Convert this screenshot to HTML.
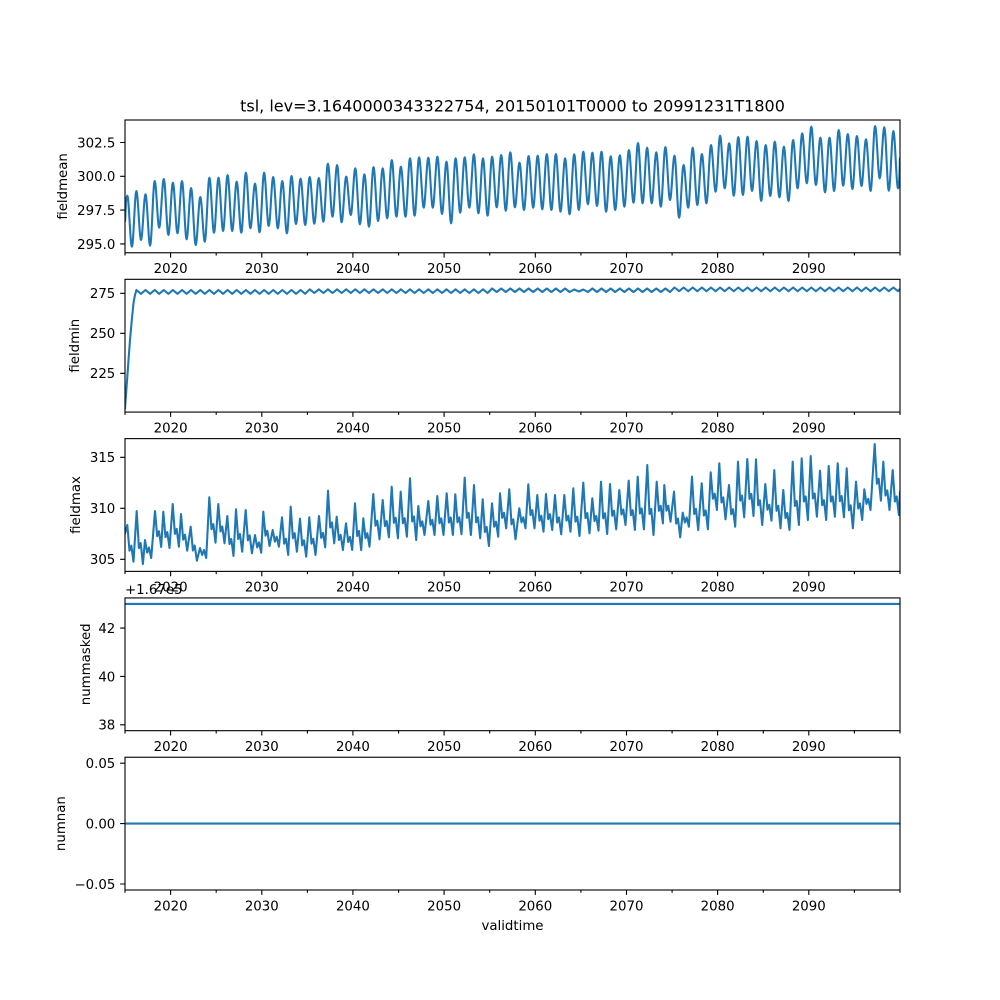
<!DOCTYPE html>
<html>
<head>
<meta charset="utf-8">
<style>
html,body{margin:0;padding:0;background:#fff;}
svg{display:block;}
text{font-family:"DejaVu Sans","Liberation Sans",sans-serif;fill:#000;}
.tk{font-size:13.33px;}
</style>
</head>
<body>
<svg width="1000" height="1000" viewBox="0 0 1000 1000" xmlns="http://www.w3.org/2000/svg">
<rect x="0" y="0" width="1000" height="1000" fill="#fff"/>
<defs>
<clipPath id="c1"><rect x="125" y="120" width="775" height="132.76"/></clipPath>
<clipPath id="c2"><rect x="125" y="279.31" width="775" height="132.76"/></clipPath>
<clipPath id="c3"><rect x="125" y="438.62" width="775" height="132.76"/></clipPath>
<clipPath id="c4"><rect x="125" y="597.93" width="775" height="132.76"/></clipPath>
<clipPath id="c5"><rect x="125" y="757.24" width="775" height="132.76"/></clipPath>
</defs>

<!-- title -->
<text x="512.5" y="111.7" text-anchor="middle" font-size="16">tsl, lev=3.1640000343322754, 20150101T0000 to 20991231T1800</text>

<!-- ===== Panel 1 ===== -->
<path clip-path="url(#c1)" fill="none" stroke="#1f77b4" stroke-width="2.08" stroke-linejoin="round" d="M125,221.7 C125.8,212 125.7,195.7 127.3,195.7 S130.3,246.7 131.9,246.7 S134.8,191 136.4,191 S139.4,240 141,240 S143.9,194.3 145.5,194.3 S148.5,245.7 150.1,245.7 S153.1,181 154.7,181 S157.6,227.7 159.2,227.7 S162.2,179 163.8,179 S166.8,235 168.4,235 S171.3,182.7 172.9,182.7 S175.9,233.3 177.5,233.3 S180.4,181 182,181 S185,239.3 186.6,239.3 S189.5,188 191.1,188 S194.1,245 195.7,245 S198.7,197 200.3,197 S203.2,241.7 204.8,241.7 S207.8,177.7 209.4,177.7 S212.4,232.7 214,232.7 S216.9,177.7 218.5,177.7 S221.5,231 223.1,231 S226,175 227.6,175 S230.6,231 232.2,231 S235.1,181.7 236.7,181.7 S239.7,232.7 241.3,232.7 S244.3,172.7 245.9,172.7 S248.8,228.3 250.4,228.3 S253.4,183.7 255,183.7 S258,232.3 259.6,232.3 S262.5,172.7 264.1,172.7 S267.1,226 268.7,226 S271.6,177 273.2,177 S276.2,228.3 277.8,228.3 S280.7,181 282.3,181 S285.3,233.3 286.9,233.3 S289.9,176 291.5,176 S294.4,224 296,224 S299,178.7 300.6,178.7 S303.6,225 305.2,225 S308.1,177 309.7,177 S312.7,223.7 314.3,223.7 S317.2,178 318.8,178 S321.8,221.7 323.4,221.7 S326.3,163.7 327.9,163.7 S330.9,216.7 332.5,216.7 S335.5,165 337.1,165 S340,222.3 341.6,222.3 S344.6,176.7 346.2,176.7 S349.2,215 350.8,215 S353.7,168.3 355.3,168.3 S358.3,224.3 359.9,224.3 S362.8,174.3 364.4,174.3 S367.4,226.7 369,226.7 S371.9,167 373.5,167 S376.5,221 378.1,221 S381.1,168.3 382.7,168.3 S385.6,218.3 387.2,218.3 S390.2,160 391.8,160 S394.8,216.7 396.4,216.7 S399.3,166.7 400.9,166.7 S403.9,216.7 405.5,216.7 S408.4,158.3 410,158.3 S413,215.7 414.6,215.7 S417.5,157.3 419.1,157.3 S422.1,207.7 423.7,207.7 S426.7,157.7 428.3,157.7 S431.2,207.7 432.8,207.7 S435.8,156.7 437.4,156.7 S440.4,214 442,214 S444.9,161.7 446.5,161.7 S449.5,223.3 451.1,223.3 S454,158.3 455.6,158.3 S458.6,212.7 460.2,212.7 S463.1,157.3 464.7,157.3 S467.7,207.7 469.3,207.7 S472.3,154.3 473.9,154.3 S476.8,213.3 478.4,213.3 S481.4,158.3 483,158.3 S486,215.7 487.6,215.7 S490.5,156.7 492.1,156.7 S495.1,207.3 496.7,207.3 S499.6,155 501.2,155 S504.2,210.7 505.8,210.7 S508.7,152.3 510.3,152.3 S513.3,207.3 514.9,207.3 S517.9,162.7 519.5,162.7 S522.4,210 524,210 S527,156 528.6,156 S531.6,207.7 533.2,207.7 S536.1,155.7 537.7,155.7 S540.7,209.3 542.3,209.3 S545.2,154 546.8,154 S549.8,210 551.4,210 S554.3,154 555.9,154 S558.9,211.7 560.5,211.7 S563.5,158.3 565.1,158.3 S568,214.3 569.6,214.3 S572.6,154.3 574.2,154.3 S577.2,210 578.8,210 S581.7,151.7 583.3,151.7 S586.3,204.3 587.9,204.3 S590.8,152.7 592.4,152.7 S595.4,206 597,206 S599.9,151.7 601.5,151.7 S604.5,211.7 606.1,211.7 S609.1,156.3 610.7,156.3 S613.6,210 615.2,210 S618.2,155.3 619.8,155.3 S622.8,206.7 624.4,206.7 S627.3,150 628.9,150 S631.9,202.7 633.5,202.7 S636.4,143 638,143 S641,203.3 642.6,203.3 S645.5,147.7 647.1,147.7 S650.1,203.3 651.7,203.3 S654.7,152.3 656.3,152.3 S659.2,206.7 660.8,206.7 S663.8,147 665.4,147 S668.4,200 670,200 S672.9,155.7 674.5,155.7 S677.5,217.7 679.1,217.7 S682,165 683.6,165 S686.6,207.7 688.2,207.7 S691.1,147.7 692.7,147.7 S695.7,205 697.3,205 S700.3,154 701.9,154 S704.8,203.3 706.4,203.3 S709.4,145 711,145 S714,191.7 715.6,191.7 S718.5,135.7 720.1,135.7 S723.1,188.3 724.7,188.3 S727.6,143.3 729.2,143.3 S732.2,195.7 733.8,195.7 S736.7,137 738.3,137 S741.3,195 742.9,195 S745.9,136.7 747.5,136.7 S750.4,191 752,191 S755,141 756.6,141 S759.6,201 761.2,201 S764.1,145 765.7,145 S768.7,196 770.3,196 S773.2,141.7 774.8,141.7 S777.8,197.3 779.4,197.3 S782.3,146.7 783.9,146.7 S786.9,201 788.5,201 S791.5,140 793.1,140 S796,188.3 797.6,188.3 S800.6,133.3 802.2,133.3 S805.2,183.3 806.8,183.3 S809.7,126.7 811.3,126.7 S814.3,185 815.9,185 S818.8,137.7 820.4,137.7 S823.4,192.3 825,192.3 S827.9,137.7 829.5,137.7 S832.5,191 834.1,191 S837.1,130 838.7,130 S841.6,185.7 843.2,185.7 S846.2,134 847.8,134 S850.8,189 852.4,189 S855.3,136 856.9,136 S859.9,186 861.5,186 S864.4,139.3 866,139.3 S869,191 870.6,191 S873.5,126 875.1,126 S878.1,178.3 879.7,178.3 S882.7,127.3 884.3,127.3 S887.2,190.7 888.8,190.7 S891.8,131 893.4,131 S896.4,188.3 898,188.3 S899.5,165 900,157.7"/>
<rect x="125" y="120" width="775" height="132.76" fill="none" stroke="#000" stroke-width="1.11"/>
<g stroke="#000" stroke-width="1.11" fill="none">
<path d="M120.14 243.9H125M120.14 210.1H125M120.14 176.3H125M120.14 142.5H125"/>
<path transform="translate(0,252.76)" d="M170.6 0v4.86M261.8 0v4.86M352.9 0v4.86M444.1 0v4.86M535.3 0v4.86M626.5 0v4.86M717.6 0v4.86M808.8 0v4.86"/>
<path transform="translate(0,252.76)" d="M125 0v2.78M216.2 0v2.78M307.4 0v2.78M398.6 0v2.78M489.7 0v2.78M580.9 0v2.78M672.1 0v2.78M763.3 0v2.78M854.4 0v2.78M900 0v2.78"/>
</g>
<g class="tk" text-anchor="end">
<text x="115.3" y="248.75">295.0</text>
<text x="115.3" y="214.95">297.5</text>
<text x="115.3" y="181.15">300.0</text>
<text x="115.3" y="147.35">302.5</text>
</g>
<g class="tk" text-anchor="middle">
<text x="170.6" y="273">2020</text><text x="261.8" y="273">2030</text><text x="352.9" y="273">2040</text><text x="444.1" y="273">2050</text><text x="535.3" y="273">2060</text><text x="626.5" y="273">2070</text><text x="717.6" y="273">2080</text><text x="808.8" y="273">2090</text>
</g>
<text class="tk" transform="translate(67,186.4) rotate(-90)" text-anchor="middle">fieldmean</text>

<!-- ===== Panel 2 ===== -->
<polyline clip-path="url(#c2)" fill="none" stroke="#1f77b4" stroke-width="2.08" stroke-linejoin="round" stroke-linecap="square" points="125,408 126.5,388 128.5,360 130,340 131.7,321 133.5,303 135,295 136.4,290 141.0,293.8 145.5,290 150.1,293.8 154.7,290 159.2,293.8 163.8,290 168.4,293.8 172.9,290 177.5,293.8 182.0,290 186.6,293.8 191.1,290 195.7,293.8 200.3,290 204.8,293.8 209.4,290 214.0,293.8 218.5,290 223.1,293.8 227.6,290 232.2,293.8 236.7,290 241.3,293.8 245.9,290 250.4,293.8 255.0,290 259.6,293.8 264.1,290 268.7,293.8 273.2,290 277.8,293.8 282.3,290 286.9,293.8 291.5,290 296.0,293.8 300.6,290 305.2,293.8 309.7,289.3 314.3,293 318.8,289.3 323.4,293 327.9,289.3 332.5,293 337.1,289.3 341.6,293 346.2,289.3 350.8,293 355.3,289.3 359.9,293 364.4,289.3 369.0,293 373.5,289.3 378.1,293 382.7,289.3 387.2,293 391.8,289.3 396.4,293 400.9,289.3 405.5,293 410.0,289.3 414.6,293 419.1,289.3 423.7,293 428.3,289.3 432.8,293 437.4,289.3 442.0,293 446.5,289.3 451.1,293 455.6,289.3 460.2,293 464.7,289.3 469.3,293 473.9,289.3 478.4,293 483.0,289.3 487.6,293 492.1,288.5 496.7,292 501.2,288.5 505.8,292 510.3,288.5 514.9,292 519.5,288.5 524.0,292 528.6,288.5 533.2,292 537.7,288.5 542.3,292 546.8,288.5 551.4,292 555.9,288.5 560.5,292 565.1,288.5 569.6,292 574.2,289.5 578.8,291.5 583.3,289.5 587.9,292 592.4,288.5 597.0,292 601.5,288.5 606.1,292 610.7,288.5 615.2,292 619.8,288.5 624.4,292 628.9,288.5 633.5,292 638.0,288.5 642.6,292 647.1,288.5 651.7,292 656.3,288.5 660.8,292 665.4,288.5 670.0,292 674.5,287.5 679.1,291.2 683.6,287.5 688.2,291.2 692.7,287.5 697.3,291.2 701.9,287.5 706.4,291.2 711.0,287.5 715.6,291.2 720.1,287.5 724.7,291.2 729.2,287.5 733.8,291.2 738.3,287.5 742.9,291.2 747.5,287.5 752.0,291.2 756.6,287.5 761.2,291.2 765.7,287.5 770.3,291.2 774.8,287.5 779.4,291.2 783.9,287.5 788.5,291.2 793.1,287.5 797.6,291.2 802.2,287.5 806.8,291.2 811.3,287.5 815.9,291.2 820.4,287.5 825.0,291.2 829.5,287.5 834.1,291.2 838.7,287.5 843.2,291.2 847.8,287.5 852.4,291.2 856.9,287.5 861.5,291.2 866.0,287.5 870.6,291.2 875.1,287.5 879.7,291.2 884.3,287.5 888.8,291.2 893.4,287.5 898.0,291.2 900,289"/>
<rect x="125" y="279.31" width="775" height="132.76" fill="none" stroke="#000" stroke-width="1.11"/>
<g stroke="#000" stroke-width="1.11" fill="none">
<path d="M120.14 373.3H125M120.14 333.3H125M120.14 293.3H125"/>
<path transform="translate(0,412.07)" d="M170.6 0v4.86M261.8 0v4.86M352.9 0v4.86M444.1 0v4.86M535.3 0v4.86M626.5 0v4.86M717.6 0v4.86M808.8 0v4.86"/>
<path transform="translate(0,412.07)" d="M125 0v2.78M216.2 0v2.78M307.4 0v2.78M398.6 0v2.78M489.7 0v2.78M580.9 0v2.78M672.1 0v2.78M763.3 0v2.78M854.4 0v2.78M900 0v2.78"/>
</g>
<g class="tk" text-anchor="end">
<text x="115.3" y="378.15">225</text>
<text x="115.3" y="338.15">250</text>
<text x="115.3" y="298.15">275</text>
</g>
<g class="tk" text-anchor="middle">
<text x="170.6" y="432.3">2020</text><text x="261.8" y="432.3">2030</text><text x="352.9" y="432.3">2040</text><text x="444.1" y="432.3">2050</text><text x="535.3" y="432.3">2060</text><text x="626.5" y="432.3">2070</text><text x="717.6" y="432.3">2080</text><text x="808.8" y="432.3">2090</text>
</g>
<text class="tk" transform="translate(79,345.7) rotate(-90)" text-anchor="middle">fieldmin</text>

<!-- ===== Panel 3 ===== -->
<polyline clip-path="url(#c3)" fill="none" stroke="#1f77b4" stroke-width="2.08" stroke-linejoin="round" stroke-linecap="square" points="125,533.3 127.3,525 129.5,550.7 131.3,545.7 133.5,561.7 136.7,511 138.9,548.1 140.7,543.1 142.9,564 145,540 147.2,552.6 149,547.6 151.2,558 155,511 157.2,536.2 159,531.2 161.2,547 163.3,511.7 165.5,537.1 167.3,532.1 169.5,548 172.7,504 174.9,533.9 176.7,528.9 178.9,546.7 181,514 183.2,539.7 185,534.7 187.2,550.7 190.7,526.7 192.9,550.5 194.7,545.5 196.9,560.7 200,548 202.2,555 204,550 206.2,558 209.3,497.3 211.5,529.1 213.3,524.1 215.5,542.7 218.3,504 220.5,531.5 222.3,526.5 224.5,543.3 227.3,516 229.5,544 231.3,539 233.5,556 236,509.3 238.2,539 240,534 242.2,551.7 245.7,510 247.9,540.3 249.7,535.3 251.9,553.3 255,535 257.2,547.4 259,542.4 261.2,552.7 263.3,511.7 265.5,535.7 267.3,530.7 269.5,546 272.7,530 274.9,541.7 276.7,536.7 278.9,546.7 282,517.3 284.2,543.7 286,538.7 288.2,555 290.7,506.7 292.9,538.2 294.7,533.2 296.9,551.7 300,518.7 302.2,545.3 304,540.3 306.2,556.7 309.3,517.3 311.5,543.7 313.3,538.7 315.5,555 319,516 321.2,537.9 323,532.9 325.2,547.3 328,490.7 330.2,527.5 332,522.5 334.2,543.3 336.7,516.7 338.9,540 340.7,535 342.9,550 346,523.3 348.2,542 350,537 352.2,550 355,503.3 357.2,536 359,531 361.2,550 363.3,518.3 365.5,538.2 367.3,533.2 369.5,546.7 373.3,494 375.5,525.7 377.3,520.7 379.5,539.3 382.7,500 384.9,526.1 386.7,521.1 388.9,537.3 391.7,486.7 393.9,522.8 395.7,517.8 397.9,538.3 400.7,491.7 402.9,523.2 404.7,518.2 406.9,536.7 410,478.3 412.2,521.5 414,516.5 416.2,540 418.3,506 420.5,526.3 422.3,521.3 424.5,535 428.3,501 430.5,524.8 432.3,519.8 434.5,535 437.3,496 439.5,523.3 441.3,518.3 443.5,535 446.7,493.3 448.9,522.5 450.7,517.5 452.9,535 455.3,494.3 457.5,522.3 459.3,517.3 461.5,534.3 464.7,477.7 466.9,517.8 468.7,512.8 470.9,535 474,485 476.2,522.3 478,517.3 480.2,538.3 482.7,499.3 484.9,532 486.7,527 488.9,546 492,503.3 494.2,526.7 496,521.7 498.2,536.7 500,493.3 502.2,517.8 504,512.8 506.2,528.3 509.3,489.3 511.5,524.3 513.3,519.3 515.5,539.3 519.3,508.3 521.5,522.3 523.3,517.3 525.5,528.3 528.3,484.3 530.5,515.1 532.3,510.1 534.5,528.3 537.3,495 539.5,520.7 541.3,515.7 543.5,531.7 546,494 548.2,519.2 550,514.2 552.2,530 555,495 557.2,522.5 559,517.5 561.2,534.3 564.3,495 566.5,520.7 568.3,515.7 570.5,531.7 573.3,488.3 575.5,521.7 577.3,516.7 579.5,536 583.3,482.7 585.5,518.1 587.3,513.1 589.5,533.3 592.3,498.3 594.5,521 596.3,516 598.5,530.7 601,481.7 603.2,518.3 605,513.3 607.2,534 610,484 612.2,515.7 614,510.7 616.2,529.3 619.3,490 621.5,514.5 623.3,509.5 625.5,525 628.7,480.7 630.9,515.2 632.7,510.2 634.9,530 637.7,476.7 639.9,513.5 641.7,508.5 643.9,529.3 647.3,465 649.5,514 651.3,509 653.5,535 656.7,481.7 658.9,510.8 660.7,505.8 662.9,523.3 664.3,485 666.5,510.7 668.3,505.7 670.5,521.7 674,491.7 676.2,523.6 678,518.6 680.2,537.3 682.7,512.7 684.9,522.5 686.7,517.5 688.9,526.7 692,476.7 694.2,514 696,509 698.2,530 701.7,483.3 703.9,515.5 705.7,510.5 707.9,529.3 710.7,472.3 712.9,498.7 714.7,493.7 716.9,510 719.3,463.3 721.5,502.5 723.3,497.5 725.5,519.3 729,485 731.2,514.2 733,509.2 735.2,526.7 738,461.7 740.2,500.6 742,495.6 744.2,517.3 747.3,459 749.5,498.9 751.3,493.9 753.5,516 756,459.3 758.2,505.3 760,500.3 762.2,525 765.3,484 767.5,509.7 769.3,504.7 771.5,520.7 774.3,470 776.5,510.8 778.3,505.8 780.5,528.3 783.3,490 785.5,518 787.3,513 789.5,530 792.7,461.7 794.9,506 796.7,501 798.9,525 801.7,458.3 803.9,501.5 805.7,496.5 807.9,520 810.7,456 812.9,498.5 814.7,493.5 816.9,516.7 820,470.7 822.2,505.2 824,500.2 826.2,520 828.7,466 830.9,501.5 832.7,496.5 834.9,516.7 837.7,463.3 839.9,501.1 841.7,496.1 843.9,517.3 846.7,468.3 848.9,510.3 850.7,505.3 852.9,528.3 856,481.7 858.2,508.5 860,503.5 862.2,520 864.3,489.3 866.5,503.8 868.3,498.8 870.5,510 874.7,444 876.9,483.7 878.7,478.7 880.9,500.7 883.3,461.7 885.5,495.5 887.3,490.5 889.5,510 892.7,470 894.9,501.5 896.7,496.5 898.9,515 900,491.7"/>
<rect x="125" y="438.62" width="775" height="132.76" fill="none" stroke="#000" stroke-width="1.11"/>
<g stroke="#000" stroke-width="1.11" fill="none">
<path d="M120.14 559.3H125M120.14 508.3H125M120.14 457.3H125"/>
<path transform="translate(0,571.38)" d="M170.6 0v4.86M261.8 0v4.86M352.9 0v4.86M444.1 0v4.86M535.3 0v4.86M626.5 0v4.86M717.6 0v4.86M808.8 0v4.86"/>
<path transform="translate(0,571.38)" d="M125 0v2.78M216.2 0v2.78M307.4 0v2.78M398.6 0v2.78M489.7 0v2.78M580.9 0v2.78M672.1 0v2.78M763.3 0v2.78M854.4 0v2.78M900 0v2.78"/>
</g>
<g class="tk" text-anchor="end">
<text x="115.3" y="564.15">305</text>
<text x="115.3" y="513.15">310</text>
<text x="115.3" y="462.15">315</text>
</g>
<g class="tk" text-anchor="middle">
<text x="170.6" y="591.6">2020</text><text x="261.8" y="591.6">2030</text><text x="352.9" y="591.6">2040</text><text x="444.1" y="591.6">2050</text><text x="535.3" y="591.6">2060</text><text x="626.5" y="591.6">2070</text><text x="717.6" y="591.6">2080</text><text x="808.8" y="591.6">2090</text>
</g>
<text class="tk" transform="translate(80,505) rotate(-90)" text-anchor="middle">fieldmax</text>

<!-- ===== Panel 4 ===== -->
<line clip-path="url(#c4)" x1="125" y1="603.9" x2="900" y2="603.9" stroke="#1f77b4" stroke-width="2.08"/>
<rect x="125" y="597.93" width="775" height="132.76" fill="none" stroke="#000" stroke-width="1.11"/>
<g stroke="#000" stroke-width="1.11" fill="none">
<path d="M120.14 724.8H125M120.14 676.4H125M120.14 628.1H125"/>
<path transform="translate(0,730.69)" d="M170.6 0v4.86M261.8 0v4.86M352.9 0v4.86M444.1 0v4.86M535.3 0v4.86M626.5 0v4.86M717.6 0v4.86M808.8 0v4.86"/>
<path transform="translate(0,730.69)" d="M125 0v2.78M216.2 0v2.78M307.4 0v2.78M398.6 0v2.78M489.7 0v2.78M580.9 0v2.78M672.1 0v2.78M763.3 0v2.78M854.4 0v2.78M900 0v2.78"/>
</g>
<g class="tk" text-anchor="end">
<text x="115.3" y="729.65">38</text>
<text x="115.3" y="681.25">40</text>
<text x="115.3" y="632.95">42</text>
</g>
<text class="tk" x="125" y="594">+1.67e5</text>
<g class="tk" text-anchor="middle">
<text x="170.6" y="750.9">2020</text><text x="261.8" y="750.9">2030</text><text x="352.9" y="750.9">2040</text><text x="444.1" y="750.9">2050</text><text x="535.3" y="750.9">2060</text><text x="626.5" y="750.9">2070</text><text x="717.6" y="750.9">2080</text><text x="808.8" y="750.9">2090</text>
</g>
<text class="tk" transform="translate(90,664.3) rotate(-90)" text-anchor="middle">nummasked</text>

<!-- ===== Panel 5 ===== -->
<line clip-path="url(#c5)" x1="125" y1="823.6" x2="900" y2="823.6" stroke="#1f77b4" stroke-width="2.08"/>
<rect x="125" y="757.24" width="775" height="132.76" fill="none" stroke="#000" stroke-width="1.11"/>
<g stroke="#000" stroke-width="1.11" fill="none">
<path d="M120.14 884.0H125M120.14 823.6H125M120.14 763.2H125"/>
<path transform="translate(0,890)" d="M170.6 0v4.86M261.8 0v4.86M352.9 0v4.86M444.1 0v4.86M535.3 0v4.86M626.5 0v4.86M717.6 0v4.86M808.8 0v4.86"/>
<path transform="translate(0,890)" d="M125 0v2.78M216.2 0v2.78M307.4 0v2.78M398.6 0v2.78M489.7 0v2.78M580.9 0v2.78M672.1 0v2.78M763.3 0v2.78M854.4 0v2.78M900 0v2.78"/>
</g>
<g class="tk" text-anchor="end">
<text x="115.3" y="888.85">−0.05</text>
<text x="115.3" y="828.45">0.00</text>
<text x="115.3" y="768.05">0.05</text>
</g>
<g class="tk" text-anchor="middle">
<text x="170.6" y="910.3">2020</text><text x="261.8" y="910.3">2030</text><text x="352.9" y="910.3">2040</text><text x="444.1" y="910.3">2050</text><text x="535.3" y="910.3">2060</text><text x="626.5" y="910.3">2070</text><text x="717.6" y="910.3">2080</text><text x="808.8" y="910.3">2090</text>
</g>
<text class="tk" transform="translate(65,823.6) rotate(-90)" text-anchor="middle">numnan</text>
<text class="tk" x="512.5" y="930" text-anchor="middle">validtime</text>
</svg>
</body>
</html>
